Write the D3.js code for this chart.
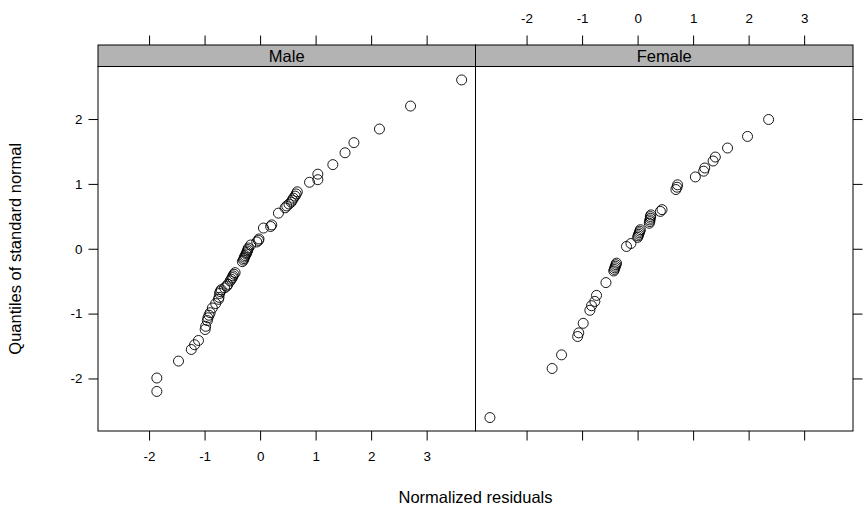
<!DOCTYPE html>
<html>
<head>
<meta charset="utf-8">
<script src="https://cdn.jsdelivr.net/npm/d3@7"></script>
<style>
  html, body { margin: 0; padding: 0; background: #fff; }
  svg { display: block; }
  text { font-family: "Liberation Sans", Arial, Helvetica, sans-serif; fill: #000; }
</style>
</head>
<body>
<svg id="chart" width="866" height="529"></svg>
<script>
// ---- data ----
const panels = ["Male", "Female"];
const xTicks = [-2, -1, 0, 1, 2, 3];
const yTicks = [-2, -1, 0, 1, 2];

const maleY = [2.603, 2.200, 1.846, 1.636, 1.480, 1.297, 1.150, 1.065, 1.025, 0.878,
  0.845, 0.812, 0.780, 0.749, 0.719, 0.689, 0.660, 0.631, 0.549, 0.368,
  0.343, 0.319, 0.151, 0.128, 0.105, 0.058, 0.012,
  -0.012, -0.035, -0.058, -0.081, -0.105, -0.128, -0.151, -0.175, -0.199,
  -0.368, -0.393, -0.418, -0.444, -0.470, -0.496,
  -0.549, -0.576, -0.603, -0.631, -0.660, -0.689,
  -0.749, -0.780, -0.845, -0.913, -0.986, -1.025, -1.065, -1.107, -1.196, -1.245,
  -1.414, -1.480, -1.553, -1.732, -1.993, -2.200];
const maleX = [3.63, 2.71, 2.15, 1.69, 1.53, 1.31, 1.04, 1.04, 0.89, 0.67,
  0.65, 0.63, 0.60, 0.58, 0.56, 0.52, 0.48, 0.45, 0.33, 0.21,
  0.19, 0.06, -0.02, -0.03, -0.06, -0.17, -0.21,
  -0.22, -0.23, -0.24, -0.25, -0.27, -0.28, -0.29, -0.30, -0.32,
  -0.45, -0.47, -0.49, -0.50, -0.52, -0.54,
  -0.58, -0.60, -0.64, -0.70, -0.72, -0.73,
  -0.74, -0.75, -0.80, -0.86, -0.90, -0.92, -0.94, -0.95, -0.98, -0.99,
  -1.11, -1.18, -1.24, -1.47, -1.86, -1.86];

const femaleY = [1.993, 1.732, 1.553, 1.414, 1.353, 1.245, 1.196, 1.107, 0.986, 0.949,
  0.913, 0.603, 0.576, 0.522, 0.496, 0.470, 0.444, 0.418, 0.393, 0.294,
  0.270, 0.246, 0.222, 0.199, 0.175, 0.081, 0.035,
  -0.222, -0.246, -0.270, -0.294, -0.319, -0.343, -0.522, -0.719, -0.812,
  -0.878, -0.949, -1.150, -1.297, -1.353, -1.636, -1.846, -2.603];
const femaleX = [2.36, 1.98, 1.62, 1.40, 1.36, 1.21, 1.19, 1.04, 0.72, 0.71,
  0.69, 0.44, 0.41, 0.24, 0.23, 0.23, 0.22, 0.22, 0.21, 0.05,
  0.04, 0.03, 0.02, 0.01, 0.00, -0.12, -0.20,
  -0.38, -0.39, -0.40, -0.41, -0.42, -0.43, -0.57, -0.74, -0.77,
  -0.83, -0.86, -0.98, -1.06, -1.08, -1.37, -1.54, -2.66];

const xTitle = "Normalized residuals";
const yTitle = "Quantiles of standard normal";

// ---- layout ----
const svg = d3.select("#chart");
const left = 98, panelW = 377.5, stripTop = 45, stripH = 21.5, bottom = 431;
const plotTop = stripTop + stripH;
const tickLen = 9.5;
const tickFont = 13.4, stripFont = 16.5, titleFont = 16.5;
const fmt = d => String(d);

const x0 = d3.scaleLinear().domain([-2.92, 3.88]).range([0, panelW]);
const y = d3.scaleLinear().domain([-2.81, 2.81]).range([bottom, plotTop]);

const seriesData = [
  maleX.map((v, i) => ({ x: v, y: maleY[i] })),
  femaleX.map((v, i) => ({ x: v, y: femaleY[i] }))
];

function styleText(sel) {
  sel.attr("font-size", tickFont).style("font-family", "Liberation Sans, Arial, sans-serif").attr("fill", "#000");
}

panels.forEach((name, p) => {
  const px = left + p * panelW;
  const g = svg.append("g").attr("transform", `translate(${px},0)`);

  // strip
  g.append("rect").attr("x", 0).attr("y", stripTop).attr("width", panelW).attr("height", stripH)
    .attr("fill", "#b3b3b3").attr("stroke", "#000").attr("stroke-width", 1);
  g.append("text").attr("x", panelW / 2).attr("y", stripTop + stripH / 2)
    .attr("dy", "0.36em").attr("text-anchor", "middle").attr("font-size", stripFont).text(name);

  // points
  g.selectAll("circle.pt").data(seriesData[p]).enter().append("circle")
    .attr("class", "pt")
    .attr("cx", d => x0(d.x)).attr("cy", d => y(d.y)).attr("r", 5)
    .attr("fill", "none").attr("stroke", "#000").attr("stroke-width", 0.9);

  // panel box
  g.append("rect").attr("x", 0).attr("y", plotTop).attr("width", panelW).attr("height", bottom - plotTop)
    .attr("fill", "none").attr("stroke", "#000").attr("stroke-width", 1);

  // bottom axis (labels on left panel only)
  const bAxis = d3.axisBottom(x0).tickValues(xTicks).tickSizeInner(tickLen).tickSizeOuter(0)
    .tickFormat(p === 0 ? fmt : () => "");
  const bg = g.append("g").attr("transform", `translate(0,${bottom})`).call(bAxis);
  bg.select(".domain").remove();
  bg.selectAll("text").call(styleText).attr("y", 25).attr("dy", "0.36em");

  // top axis (labels on right panel only)
  const tAxis = d3.axisTop(x0).tickValues(xTicks).tickSizeInner(tickLen).tickSizeOuter(0)
    .tickFormat(p === 1 ? fmt : () => "");
  const tg = g.append("g").attr("transform", `translate(0,${stripTop})`).call(tAxis);
  tg.select(".domain").remove();
  tg.selectAll("text").call(styleText).attr("y", -27).attr("dy", "0.36em");
});

// left y axis with labels
const la = svg.append("g").attr("transform", `translate(${left},0)`)
  .call(d3.axisLeft(y).tickValues(yTicks).tickSizeInner(tickLen).tickSizeOuter(0).tickFormat(fmt));
la.select(".domain").remove();
la.selectAll("text").call(styleText).attr("x", -(tickLen + 6));

// right y axis ticks only
const ra = svg.append("g").attr("transform", `translate(${left + 2 * panelW},0)`)
  .call(d3.axisRight(y).tickValues(yTicks).tickSizeInner(tickLen).tickSizeOuter(0).tickFormat(() => ""));
ra.select(".domain").remove();

// axis titles
svg.append("text").attr("x", left + panelW).attr("y", 497).attr("dy", "0.35em")
  .attr("text-anchor", "middle").attr("font-size", titleFont).text(xTitle);
svg.append("text").attr("transform", `translate(15,${(plotTop + bottom) / 2}) rotate(-90)`)
  .attr("dy", "0.35em").attr("text-anchor", "middle").attr("font-size", titleFont).text(yTitle);
</script>
</body>
</html>
